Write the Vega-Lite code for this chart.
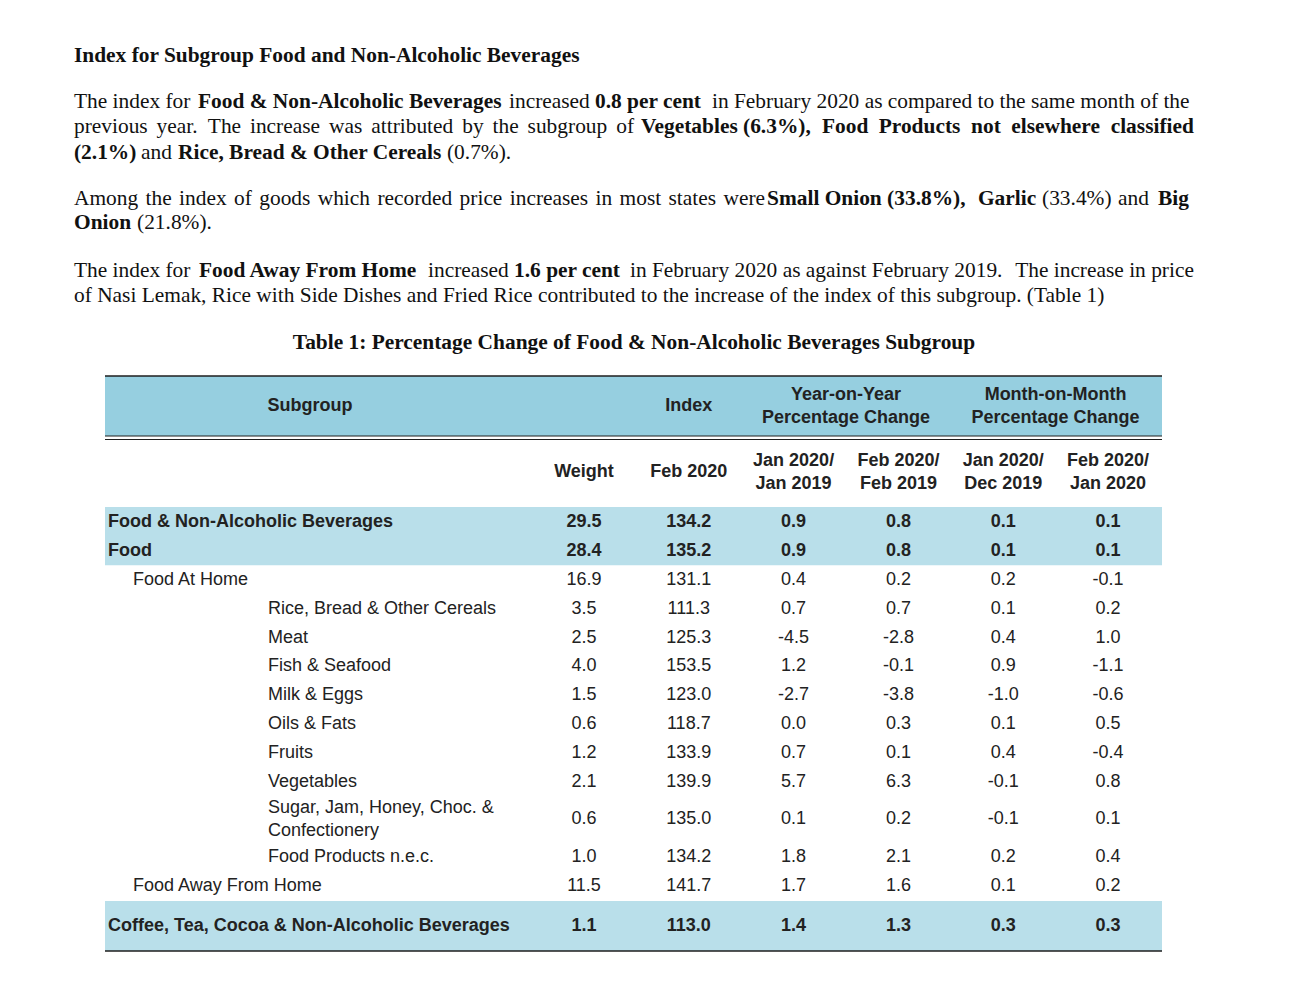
{
  "$schema": "https://vega.github.io/schema/vega-lite/v6.json",
  "width": 1057,
  "height": 1002,
  "autosize": "none",
  "padding": {"left": 105, "right": 137, "top": 0, "bottom": 0},
  "background": "white",
  "config": {
    "view": {"stroke": null},
    "locale": {"number": {"decimal": ".", "thousands": ",", "grouping": [3], "currency": ["$", ""], "minus": "-"}}
  },
  "datasets": {
    "prose": [
      {"line": 0, "at": 0, "text": "Index for Subgroup Food and Non-Alcoholic Beverages", "strong": true},
      {"line": 1, "at": 0, "text": "The index for", "strong": false},
      {"line": 1, "at": 11.07, "text": "Food & Non-Alcoholic Beverages", "strong": true},
      {"line": 1, "at": 38.84, "text": "increased", "strong": false},
      {"line": 1, "at": 46.52, "text": "0.8 per cent", "strong": true},
      {"line": 1, "at": 56.96, "text": "in February 2020 as compared to the same month of the", "strong": false},
      {"line": 2, "at": 0, "text": "previous", "strong": false},
      {"line": 2, "at": 7.375, "text": "year.", "strong": false},
      {"line": 2, "at": 11.95, "text": "The", "strong": false},
      {"line": 2, "at": 15.71, "text": "increase", "strong": false},
      {"line": 2, "at": 22.77, "text": "was", "strong": false},
      {"line": 2, "at": 26.54, "text": "attributed", "strong": false},
      {"line": 2, "at": 34.66, "text": "by", "strong": false},
      {"line": 2, "at": 37.37, "text": "the", "strong": false},
      {"line": 2, "at": 40.50, "text": "subgroup", "strong": false},
      {"line": 2, "at": 48.41, "text": "of", "strong": false},
      {"line": 2, "at": 50.63, "text": "Vegetables (6.3%),", "strong": true},
      {"line": 2, "at": 66.79, "text": "Food", "strong": true},
      {"line": 2, "at": 71.85, "text": "Products", "strong": true},
      {"line": 2, "at": 80.10, "text": "not", "strong": true},
      {"line": 2, "at": 83.68, "text": "elsewhere", "strong": true},
      {"line": 2, "at": 92.56, "text": "classified", "strong": true},
      {"line": 3, "at": 0, "text": "(2.1%)", "strong": true},
      {"line": 3, "at": 5.98, "text": "and", "strong": false},
      {"line": 3, "at": 9.29, "text": "Rice, Bread & Other Cereals", "strong": true},
      {"line": 3, "at": 33.30, "text": "(0.7%).", "strong": false},
      {"line": 4, "at": 0, "text": "Among", "strong": false},
      {"line": 4, "at": 6.39, "text": "the", "strong": false},
      {"line": 4, "at": 9.38, "text": "index", "strong": false},
      {"line": 4, "at": 14.29, "text": "of", "strong": false},
      {"line": 4, "at": 16.54, "text": "goods", "strong": false},
      {"line": 4, "at": 21.76, "text": "which", "strong": false},
      {"line": 4, "at": 27.09, "text": "recorded", "strong": false},
      {"line": 4, "at": 34.43, "text": "price", "strong": false},
      {"line": 4, "at": 38.91, "text": "increases", "strong": false},
      {"line": 4, "at": 46.57, "text": "in", "strong": false},
      {"line": 4, "at": 48.71, "text": "most", "strong": false},
      {"line": 4, "at": 53.08, "text": "states", "strong": false},
      {"line": 4, "at": 57.99, "text": "were", "strong": false},
      {"line": 4, "at": 61.88, "text": "Small Onion (33.8%),", "strong": true},
      {"line": 4, "at": 80.71, "text": "Garlic", "strong": true},
      {"line": 4, "at": 86.43, "text": "(33.4%)", "strong": false},
      {"line": 4, "at": 93.21, "text": "and", "strong": false},
      {"line": 4, "at": 96.79, "text": "Big", "strong": true},
      {"line": 5, "at": 0, "text": "Onion", "strong": true},
      {"line": 5, "at": 5.63, "text": "(21.8%).", "strong": false},
      {"line": 6, "at": 0, "text": "The index for", "strong": false},
      {"line": 6, "at": 11.16, "text": "Food Away From Home", "strong": true},
      {"line": 6, "at": 31.61, "text": "increased", "strong": false},
      {"line": 6, "at": 39.29, "text": "1.6 per cent", "strong": true},
      {"line": 6, "at": 49.64, "text": "in February 2020 as against February 2019.", "strong": false},
      {"line": 6, "at": 84.03, "text": "The increase in price", "strong": false},
      {"line": 7, "at": 0, "text": "of Nasi Lemak, Rice with Side Dishes and Fried Rice contributed to the increase of the index of this subgroup. (Table 1)", "strong": false}
    ],
    "caption": [
      {"line": 8, "at": 50, "text": "Table 1: Percentage Change of Food & Non-Alcoholic Beverages Subgroup"}
    ],
    "table": [
      {"row": 2, "level": 0, "subgroup": "Food & Non-Alcoholic Beverages", "weight": 29.5, "index": 134.2, "yoy_jan": 0.9, "yoy_feb": 0.8, "mom_jan": 0.1, "mom_feb": 0.1},
      {"row": 3, "level": 0, "subgroup": "Food", "weight": 28.4, "index": 135.2, "yoy_jan": 0.9, "yoy_feb": 0.8, "mom_jan": 0.1, "mom_feb": 0.1},
      {"row": 4, "level": 1, "subgroup": "Food At Home", "weight": 16.9, "index": 131.1, "yoy_jan": 0.4, "yoy_feb": 0.2, "mom_jan": 0.2, "mom_feb": -0.1},
      {"row": 5, "level": 2, "subgroup": "Rice, Bread & Other Cereals", "weight": 3.5, "index": 111.3, "yoy_jan": 0.7, "yoy_feb": 0.7, "mom_jan": 0.1, "mom_feb": 0.2},
      {"row": 6, "level": 2, "subgroup": "Meat", "weight": 2.5, "index": 125.3, "yoy_jan": -4.5, "yoy_feb": -2.8, "mom_jan": 0.4, "mom_feb": 1.0},
      {"row": 7, "level": 2, "subgroup": "Fish & Seafood", "weight": 4.0, "index": 153.5, "yoy_jan": 1.2, "yoy_feb": -0.1, "mom_jan": 0.9, "mom_feb": -1.1},
      {"row": 8, "level": 2, "subgroup": "Milk & Eggs", "weight": 1.5, "index": 123.0, "yoy_jan": -2.7, "yoy_feb": -3.8, "mom_jan": -1.0, "mom_feb": -0.6},
      {"row": 9, "level": 2, "subgroup": "Oils & Fats", "weight": 0.6, "index": 118.7, "yoy_jan": 0.0, "yoy_feb": 0.3, "mom_jan": 0.1, "mom_feb": 0.5},
      {"row": 10, "level": 2, "subgroup": "Fruits", "weight": 1.2, "index": 133.9, "yoy_jan": 0.7, "yoy_feb": 0.1, "mom_jan": 0.4, "mom_feb": -0.4},
      {"row": 11, "level": 2, "subgroup": "Vegetables", "weight": 2.1, "index": 139.9, "yoy_jan": 5.7, "yoy_feb": 6.3, "mom_jan": -0.1, "mom_feb": 0.8},
      {"row": 12, "level": 2, "subgroup": "Sugar, Jam, Honey, Choc. &\nConfectionery", "weight": 0.6, "index": 135.0, "yoy_jan": 0.1, "yoy_feb": 0.2, "mom_jan": -0.1, "mom_feb": 0.1},
      {"row": 13, "level": 2, "subgroup": "Food Products n.e.c.", "weight": 1.0, "index": 134.2, "yoy_jan": 1.8, "yoy_feb": 2.1, "mom_jan": 0.2, "mom_feb": 0.4},
      {"row": 14, "level": 1, "subgroup": "Food Away From Home", "weight": 11.5, "index": 141.7, "yoy_jan": 1.7, "yoy_feb": 1.6, "mom_jan": 0.1, "mom_feb": 0.2},
      {"row": 15, "level": 0, "subgroup": "Coffee, Tea, Cocoa & Non-Alcoholic Beverages", "weight": 1.1, "index": 113.0, "yoy_jan": 1.4, "yoy_feb": 1.3, "mom_jan": 0.3, "mom_feb": 0.3}
    ],
    "heads": [
      {"row": 0, "col": 0, "text": "Subgroup"},
      {"row": 0, "col": 2, "text": "Index"},
      {"row": 0, "col": 3.5, "text": "Year-on-Year\nPercentage Change"},
      {"row": 0, "col": 5.5, "text": "Month-on-Month\nPercentage Change"},
      {"row": 1, "col": 1, "text": "Weight"},
      {"row": 1, "col": 2, "text": "Feb 2020"},
      {"row": 1, "col": 3, "text": "Jan 2020/\nJan 2019"},
      {"row": 1, "col": 4, "text": "Feb 2020/\nFeb 2019"},
      {"row": 1, "col": 5, "text": "Jan 2020/\nDec 2019"},
      {"row": 1, "col": 6, "text": "Feb 2020/\nJan 2020"}
    ],
    "bands": [
      {"from": -0.5, "to": 0.5, "kind": "head"},
      {"from": 1.5, "to": 3.5, "kind": "group"},
      {"from": 14.5, "to": 15.5, "kind": "group"}
    ],
    "edges": [
      {"edge": -0.5, "kind": "frame"},
      {"edge": 0.5, "kind": "divider"},
      {"edge": 0.55, "kind": "divider"},
      {"edge": 15.5, "kind": "frame"}
    ]
  },
  "layer": [
    {
      "data": {"name": "bands"},
      "mark": {"type": "rect"},
      "encoding": {
        "y": {"field": "from", "type": "quantitative", "axis": null,
          "scale": {"type": "linear", "domain": [-0.5, 0, 0.5, 0.55, 1, 1.5, 2, 11, 12, 13, 14, 14.5, 15, 15.5], "range": [376, 406, 436, 439.5, 472, 507, 522, 782, 819, 857, 886, 901, 926, 951], "zero": false, "nice": false}},
        "y2": {"field": "to"},
        "color": {"field": "kind", "type": "nominal", "legend": null,
          "scale": {"domain": ["head", "group"], "range": ["#96cfe0", "#b9dfea"]}}
      }
    },
    {
      "data": {"name": "edges"},
      "transform": [{"filter": "datum.kind == 'frame'"}],
      "mark": {"type": "rule", "color": "#1e1e1e", "strokeWidth": 1.6},
      "encoding": {
        "y": {"field": "edge", "type": "quantitative", "axis": null,
          "scale": {"type": "linear", "domain": [-0.5, 0, 0.5, 0.55, 1, 1.5, 2, 11, 12, 13, 14, 14.5, 15, 15.5], "range": [376, 406, 436, 439.5, 472, 507, 522, 782, 819, 857, 886, 901, 926, 951], "zero": false, "nice": false}}
      }
    },
    {
      "data": {"name": "edges"},
      "transform": [{"filter": "datum.kind == 'divider'"}],
      "mark": {"type": "rule", "color": "#1e1e1e", "strokeWidth": 1},
      "encoding": {
        "y": {"field": "edge", "type": "quantitative", "axis": null,
          "scale": {"type": "linear", "domain": [-0.5, 0, 0.5, 0.55, 1, 1.5, 2, 11, 12, 13, 14, 14.5, 15, 15.5], "range": [376, 406, 436, 439.5, 472, 507, 522, 782, 819, 857, 886, 901, 926, 951], "zero": false, "nice": false}}
      }
    },
    {
      "data": {"name": "heads"},
      "transform": [{"filter": "indexof(datum.text, '\\n') < 0"}],
      "mark": {"type": "text", "font": "Liberation Sans", "fontSize": 18, "fontWeight": "bold", "color": "#222222", "align": "center", "baseline": "middle"},
      "encoding": {
        "x": {"field": "col", "type": "quantitative", "axis": null,
          "scale": {"type": "linear", "domain": [0, 1, 6], "range": [205, 479, 1003], "zero": false, "nice": false}},
        "y": {"field": "row", "type": "quantitative", "axis": null,
          "scale": {"type": "linear", "domain": [-0.5, 0, 0.5, 0.55, 1, 1.5, 2, 11, 12, 13, 14, 14.5, 15, 15.5], "range": [376, 406, 436, 439.5, 472, 507, 522, 782, 819, 857, 886, 901, 926, 951], "zero": false, "nice": false}},
        "text": {"field": "text"}
      }
    },
    {
      "data": {"name": "heads"},
      "transform": [{"filter": "indexof(datum.text, '\\n') >= 0"}],
      "mark": {"type": "text", "font": "Liberation Sans", "fontSize": 18, "fontWeight": "bold", "color": "#222222", "align": "center", "baseline": "middle", "lineBreak": "\n", "lineHeight": 23, "dy": -11.5},
      "encoding": {
        "x": {"field": "col", "type": "quantitative", "axis": null,
          "scale": {"type": "linear", "domain": [0, 1, 6], "range": [205, 479, 1003], "zero": false, "nice": false}},
        "y": {"field": "row", "type": "quantitative", "axis": null,
          "scale": {"type": "linear", "domain": [-0.5, 0, 0.5, 0.55, 1, 1.5, 2, 11, 12, 13, 14, 14.5, 15, 15.5], "range": [376, 406, 436, 439.5, 472, 507, 522, 782, 819, 857, 886, 901, 926, 951], "zero": false, "nice": false}},
        "text": {"field": "text"}
      }
    },
    {
      "data": {"name": "table"},
      "transform": [{"filter": "datum.level > 0 && indexof(datum.subgroup, '\\n') < 0"}],
      "mark": {"type": "text", "font": "Liberation Sans", "fontSize": 18, "color": "#222222", "align": "left", "baseline": "middle"},
      "encoding": {
        "x": {"field": "level", "type": "quantitative", "axis": null,
          "scale": {"type": "linear", "domain": [0, 1, 2], "range": [3, 28, 163], "zero": false, "nice": false}},
        "y": {"field": "row", "type": "quantitative", "axis": null,
          "scale": {"type": "linear", "domain": [-0.5, 0, 0.5, 0.55, 1, 1.5, 2, 11, 12, 13, 14, 14.5, 15, 15.5], "range": [376, 406, 436, 439.5, 472, 507, 522, 782, 819, 857, 886, 901, 926, 951], "zero": false, "nice": false}},
        "text": {"field": "subgroup"}
      }
    },
    {
      "data": {"name": "table"},
      "transform": [{"filter": "datum.level > 0 && indexof(datum.subgroup, '\\n') >= 0"}],
      "mark": {"type": "text", "font": "Liberation Sans", "fontSize": 18, "color": "#222222", "align": "left", "baseline": "middle", "lineBreak": "\n", "lineHeight": 23, "dy": -11.5},
      "encoding": {
        "x": {"field": "level", "type": "quantitative", "axis": null,
          "scale": {"type": "linear", "domain": [0, 1, 2], "range": [3, 28, 163], "zero": false, "nice": false}},
        "y": {"field": "row", "type": "quantitative", "axis": null,
          "scale": {"type": "linear", "domain": [-0.5, 0, 0.5, 0.55, 1, 1.5, 2, 11, 12, 13, 14, 14.5, 15, 15.5], "range": [376, 406, 436, 439.5, 472, 507, 522, 782, 819, 857, 886, 901, 926, 951], "zero": false, "nice": false}},
        "text": {"field": "subgroup"}
      }
    },
    {
      "data": {"name": "table"},
      "transform": [{"filter": "datum.level == 0"}],
      "mark": {"type": "text", "font": "Liberation Sans", "fontSize": 18, "fontWeight": "bold", "color": "#222222", "align": "left", "baseline": "middle"},
      "encoding": {
        "x": {"field": "level", "type": "quantitative", "axis": null,
          "scale": {"type": "linear", "domain": [0, 1, 2], "range": [3, 28, 163], "zero": false, "nice": false}},
        "y": {"field": "row", "type": "quantitative", "axis": null,
          "scale": {"type": "linear", "domain": [-0.5, 0, 0.5, 0.55, 1, 1.5, 2, 11, 12, 13, 14, 14.5, 15, 15.5], "range": [376, 406, 436, 439.5, 472, 507, 522, 782, 819, 857, 886, 901, 926, 951], "zero": false, "nice": false}},
        "text": {"field": "subgroup"}
      }
    },
    {
      "data": {"name": "table"},
      "transform": [
        {"filter": "datum.level > 0"},
        {"fold": ["weight", "index", "yoy_jan", "yoy_feb", "mom_jan", "mom_feb"], "as": ["measure", "value"]}
      ],
      "mark": {"type": "text", "font": "Liberation Sans", "fontSize": 18, "color": "#222222", "align": "center", "baseline": "middle"},
      "encoding": {
        "x": {"field": "measure", "type": "nominal", "axis": null,
          "scale": {"type": "point", "domain": ["weight", "index", "yoy_jan", "yoy_feb", "mom_jan", "mom_feb"], "range": [479, 1003], "padding": 0}},
        "y": {"field": "row", "type": "quantitative", "axis": null,
          "scale": {"type": "linear", "domain": [-0.5, 0, 0.5, 0.55, 1, 1.5, 2, 11, 12, 13, 14, 14.5, 15, 15.5], "range": [376, 406, 436, 439.5, 472, 507, 522, 782, 819, 857, 886, 901, 926, 951], "zero": false, "nice": false}},
        "text": {"field": "value", "type": "quantitative", "format": ".1f"}
      }
    },
    {
      "data": {"name": "table"},
      "transform": [
        {"filter": "datum.level == 0"},
        {"fold": ["weight", "index", "yoy_jan", "yoy_feb", "mom_jan", "mom_feb"], "as": ["measure", "value"]}
      ],
      "mark": {"type": "text", "font": "Liberation Sans", "fontSize": 18, "fontWeight": "bold", "color": "#222222", "align": "center", "baseline": "middle"},
      "encoding": {
        "x": {"field": "measure", "type": "nominal", "axis": null,
          "scale": {"type": "point", "domain": ["weight", "index", "yoy_jan", "yoy_feb", "mom_jan", "mom_feb"], "range": [479, 1003], "padding": 0}},
        "y": {"field": "row", "type": "quantitative", "axis": null,
          "scale": {"type": "linear", "domain": [-0.5, 0, 0.5, 0.55, 1, 1.5, 2, 11, 12, 13, 14, 14.5, 15, 15.5], "range": [376, 406, 436, 439.5, 472, 507, 522, 782, 819, 857, 886, 901, 926, 951], "zero": false, "nice": false}},
        "text": {"field": "value", "type": "quantitative", "format": ".1f"}
      }
    },
    {
      "data": {"name": "prose"},
      "transform": [{"filter": "!datum.strong"}],
      "mark": {"type": "text", "font": "Liberation Serif", "fontSize": 21.4, "color": "#111111", "align": "left", "baseline": "alphabetic"},
      "encoding": {
        "x": {"field": "at", "type": "quantitative", "axis": null,
          "scale": {"type": "linear", "domain": [0, 100], "range": [-31, 1089], "zero": false, "nice": false}},
        "y": {"field": "line", "type": "quantitative", "axis": null,
          "scale": {"type": "linear", "domain": [0, 1, 2, 3, 4, 5, 6, 7, 8], "range": [62, 108, 133, 159, 205, 229, 277, 302, 349], "zero": false, "nice": false}},
        "text": {"field": "text"}
      }
    },
    {
      "data": {"name": "prose"},
      "transform": [{"filter": "datum.strong"}],
      "mark": {"type": "text", "font": "Liberation Serif", "fontSize": 21.4, "fontWeight": "bold", "color": "#111111", "align": "left", "baseline": "alphabetic"},
      "encoding": {
        "x": {"field": "at", "type": "quantitative", "axis": null,
          "scale": {"type": "linear", "domain": [0, 100], "range": [-31, 1089], "zero": false, "nice": false}},
        "y": {"field": "line", "type": "quantitative", "axis": null,
          "scale": {"type": "linear", "domain": [0, 1, 2, 3, 4, 5, 6, 7, 8], "range": [62, 108, 133, 159, 205, 229, 277, 302, 349], "zero": false, "nice": false}},
        "text": {"field": "text"}
      }
    },
    {
      "data": {"name": "caption"},
      "mark": {"type": "text", "font": "Liberation Serif", "fontSize": 21.4, "fontWeight": "bold", "color": "#111111", "align": "center", "baseline": "alphabetic"},
      "encoding": {
        "x": {"field": "at", "type": "quantitative", "axis": null,
          "scale": {"type": "linear", "domain": [0, 100], "range": [-31, 1089], "zero": false, "nice": false}},
        "y": {"field": "line", "type": "quantitative", "axis": null,
          "scale": {"type": "linear", "domain": [0, 1, 2, 3, 4, 5, 6, 7, 8], "range": [62, 108, 133, 159, 205, 229, 277, 302, 349], "zero": false, "nice": false}},
        "text": {"field": "text"}
      }
    }
  ],
  "resolve": {"scale": {"x": "independent", "y": "independent", "color": "independent"}}
}
